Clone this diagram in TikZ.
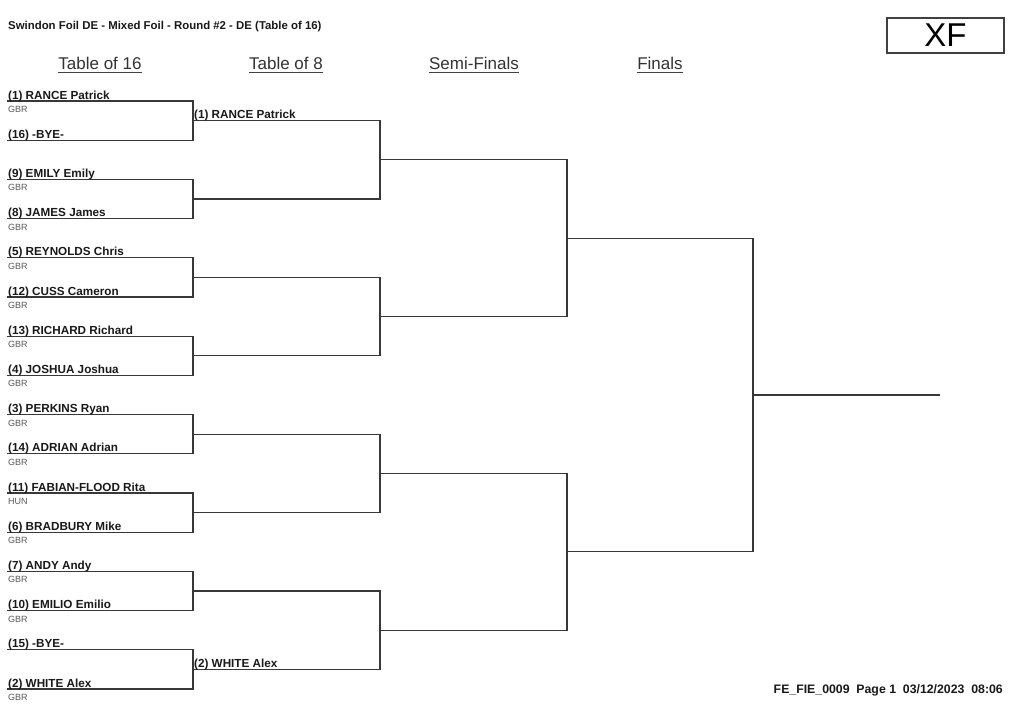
\documentclass[tikz,border=0pt]{standalone}
\usepackage{fontspec}
\setmainfont{Liberation Sans}
\begin{document}
\begin{tikzpicture}[x=1pt,y=-1pt,
  bline/.style={draw=black!78,line width=1.3pt},
  namelbl/.style={anchor=base west,inner sep=0pt,font=\fontsize{11.7}{13}\selectfont\bfseries,text=black!90},
  ctrylbl/.style={anchor=base west,inner sep=0pt,font=\fontsize{9}{10}\selectfont,text=black!65},
  headlbl/.style={anchor=base,inner sep=0pt,font=\fontsize{17}{19}\selectfont,text=black!80},
  titlelbl/.style={anchor=base west,inner sep=0pt,font=\fontsize{11.4}{13}\selectfont\bfseries,text=black!90}]
\useasboundingbox (0,0) rectangle (1024,716);
\fill[white] (0,0) rectangle (1024,716);

% title, headers, box, footer
\node[titlelbl] (title) at (8,29) {Swindon Foil DE - Mixed Foil - Round \#2 - DE (Table of 16)};
\node[draw=black!75,line width=1.3pt,minimum width=117pt,minimum height=35pt,inner sep=0pt,
      font=\fontsize{33}{35}\selectfont] (xf) at (945.5,35.5) {XF};
\node[headlbl] (h1) at (100,69) {Table of 16};
\node[headlbl] (h2) at (286,69) {Table of 8};
\node[headlbl] (h3) at (474,69) {Semi-Finals};
\node[headlbl] (h4) at (660,69) {Finals};
\foreach \h in {h1,h2,h3,h4}{
  \draw[black!75,line width=1pt] ([yshift=-3.5pt]\h.base west) -- ([yshift=-3.5pt]\h.base east);
}
\node[anchor=base east,inner sep=0pt,font=\fontsize{12.3}{13}\selectfont\bfseries,text=black!90] (foot)
  at (1003,693) {FE\_FIE\_0009\ \ Page 1\ \ 03/12/2023\ \ 08:06};

% coordinates of bracket lines
\foreach \i in {0,...,15}{
  \pgfmathsetmacro\y{101+39.2*\i}
  \coordinate (a\i) at (7,\y);
}
\foreach \j in {0,...,7}{
  \pgfmathsetmacro\y{101+39.2*(2*\j+0.5)}
  \coordinate (b\j) at (193,\y);
}
\foreach \j in {0,...,3}{
  \pgfmathsetmacro\y{101+39.2*(4*\j+1.5)}
  \coordinate (c\j) at (380,\y);
}
\foreach \j in {0,1}{
  \pgfmathsetmacro\y{101+39.2*(8*\j+3.5)}
  \coordinate (d\j) at (567,\y);
}
\coordinate (e0) at (753,{101+39.2*7.5});
\coordinate (fin) at (940,{101+39.2*7.5});

% brackets
\foreach \j in {0,...,7}{
  \pgfmathtruncatemacro\p{2*\j}\pgfmathtruncatemacro\q{2*\j+1}
  \draw[bline] (a\p) -| (b\j) |- (a\q);
}
\foreach \j in {0,...,3}{
  \pgfmathtruncatemacro\p{2*\j}\pgfmathtruncatemacro\q{2*\j+1}
  \draw[bline] (b\p) -| (c\j) |- (b\q);
}
\foreach \j in {0,1}{
  \pgfmathtruncatemacro\p{2*\j}\pgfmathtruncatemacro\q{2*\j+1}
  \draw[bline] (c\p) -| (d\j) |- (c\q);
}
\draw[bline] (d0) -| (e0) |- (d1);
\draw[bline] (e0) -- (fin);

% names
\foreach \i/\n in {0/{(1) RANCE Patrick},1/{(16) -BYE-},2/{(9) EMILY Emily},3/{(8) JAMES James},
  4/{(5) REYNOLDS Chris},5/{(12) CUSS Cameron},6/{(13) RICHARD Richard},7/{(4) JOSHUA Joshua},
  8/{(3) PERKINS Ryan},9/{(14) ADRIAN Adrian},10/{(11) FABIAN-FLOOD Rita},11/{(6) BRADBURY Mike},
  12/{(7) ANDY Andy},13/{(10) EMILIO Emilio},14/{(15) -BYE-},15/{(2) WHITE Alex}}{
  \node[namelbl] (n\i) at ([xshift=1pt,yshift=2pt]a\i) {\n};
}
\foreach \i/\c in {0/GBR,2/GBR,3/GBR,4/GBR,5/GBR,6/GBR,7/GBR,8/GBR,9/GBR,10/HUN,11/GBR,12/GBR,13/GBR,15/GBR}{
  \node[ctrylbl] (g\i) at ([xshift=1pt,yshift=-11.5pt]a\i) {\c};
}
\node[namelbl] (w0) at ([xshift=1pt,yshift=2pt]b0) {(1) RANCE Patrick};
\node[namelbl] (w7) at ([xshift=1pt,yshift=2pt]b7) {(2) WHITE Alex};
\end{tikzpicture}
\end{document}
